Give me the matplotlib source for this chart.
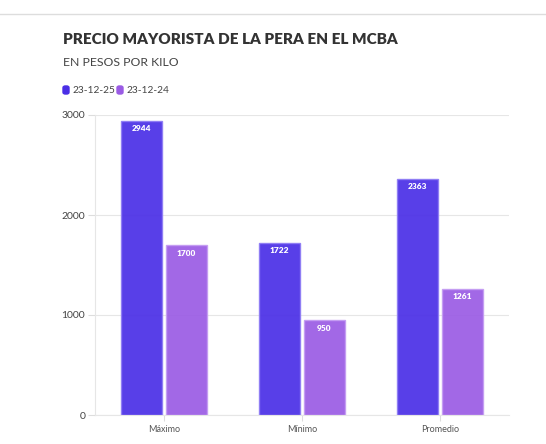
import matplotlib.pyplot as plt
from matplotlib.patches import FancyBboxPatch
import numpy as np

# --- Datos ---
categorias = ["Máximo", "Mínimo", "Promedio"]
serie_2025 = [2944, 1722, 2363]
serie_2024 = [1700, 950, 1261]
etiquetas = ["23-12-25", "23-12-24"]
colores = ["#4a2ee6", "#9a5be4"]
bordes = ["#8e7cf5", "#c49cf2"]

plt.rcParams['font.family'] = ['Lato', 'DejaVu Sans']

fig = plt.figure(figsize=(5.46, 4.44), dpi=100)
W, H = 546, 444
ax = fig.add_axes([95 / W, 1 - 415 / H, (509 - 95) / W, (415 - 115) / H])

x = np.arange(len(categorias))
ancho = 0.29
desp = 0.163
for i, (vals, col, bor) in enumerate(zip([serie_2025, serie_2024], colores, bordes)):
    pos = x + (-desp if i == 0 else desp)
    ax.bar(pos, vals, width=ancho, color=col, edgecolor=bor,
           linewidth=1, alpha=0.92, zorder=2)
    for xb, v in zip(pos, vals):
        ax.text(xb, v - 45, str(v), ha='center', va='top', color='white',
                fontsize=6, fontweight='heavy', zorder=4)

ax.set_xlim(-0.5, 2.5)
ax.set_ylim(0, 3000)
ax.set_yticks([0, 1000, 2000, 3000])
ax.set_xticks(x)
ax.set_xticklabels(categorias, fontsize=6.5, color='#555555')
ax.tick_params(axis='y', labelsize=7.5, labelcolor='#444444', length=5,
               color='#dddddd', pad=2)
ax.tick_params(axis='x', length=4, color='#dddddd', pad=3)
ax.grid(axis='y', color='#e6e6e6', linewidth=0.8, zorder=1)
ax.set_axisbelow(True)
for s in ['top', 'right']:
    ax.spines[s].set_visible(False)
ax.spines['left'].set_color('#e6e6e6')
ax.spines['bottom'].set_color('#e6e6e6')

# --- Titulos ---
fig.text(63 / W, 1 - 40 / H, "PRECIO MAYORISTA DE LA PERA EN EL MCBA",
         fontsize=11, fontweight='heavy', color='#333333', va='center')
fig.text(63 / W, 1 - 62 / H, "EN PESOS POR KILO", fontsize=8.8,
         color='#444444', va='center')

# --- Leyenda ---
lx = [63, 117]
for xi, lab, col in zip(lx, etiquetas, colores):
    p = FancyBboxPatch((xi / W, 1 - 94 / H), 6 / W, 8 / H,
                       boxstyle="round,pad=0,rounding_size=0.004",
                       transform=fig.transFigure, color=col)
    fig.patches.append(p)
    fig.text((xi + 10) / W, 1 - 90 / H, lab, fontsize=7.3, color='#444444',
             va='center')

# linea superior
fig.add_artist(plt.Line2D([0, 1], [1 - 14 / H, 1 - 14 / H],
                          color='#dddddd', linewidth=1))

fig.savefig("out.png", dpi=100)
